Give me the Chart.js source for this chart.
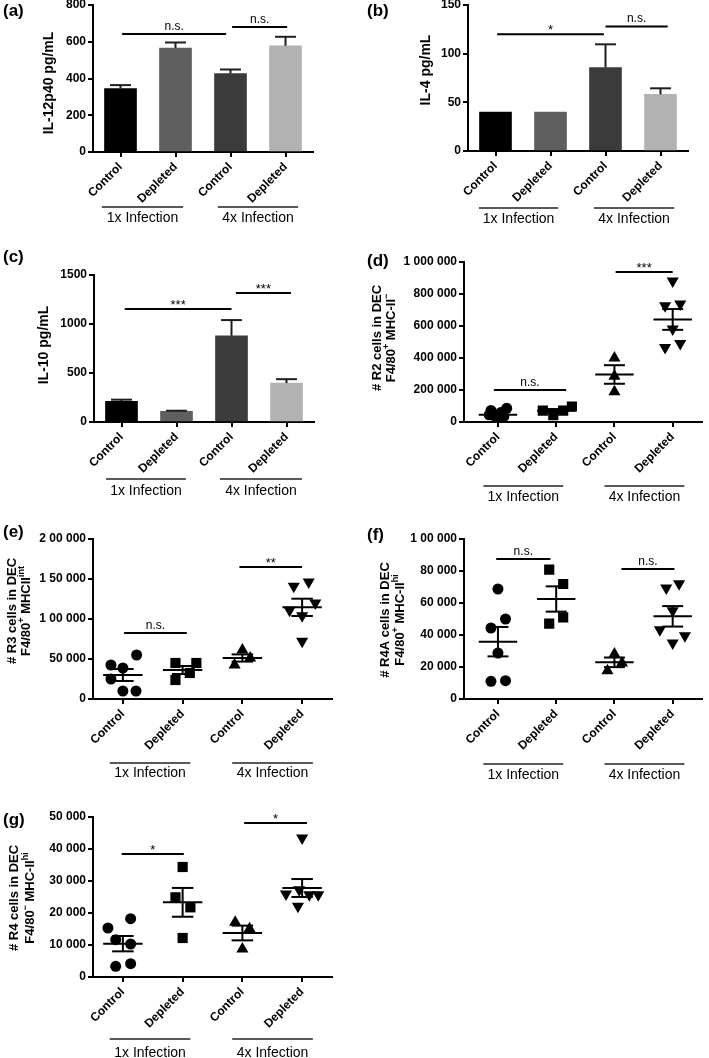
<!DOCTYPE html>
<html><head><meta charset="utf-8">
<script src="https://cdn.jsdelivr.net/npm/chart.js@4/dist/chart.umd.min.js"></script>
<style>
html,body{margin:0;padding:0;background:#fff;}
#wrap{position:relative;width:709px;height:1058px;overflow:hidden;background:#fff;}
canvas{position:absolute;left:0;top:0;}
</style></head><body><div id="wrap"></div>
<script>
// ---------- DATA ----------
const categories = ['Control', 'Depleted', 'Control', 'Depleted'];
const groupLabels = ['1x Infection', '4x Infection'];
const barColors = ['#000000', '#5f5f5f', '#3b3b3b', '#b2b2b2'];

// (a) IL-12p40 pg/mL
const il12Mean = [345, 565, 427, 578];
const il12Sem = [19, 31, 22, 49];
const yTicksA = ['0', '200', '400', '600', '800'];
// (b) IL-4 pg/mL
const il4Mean = [40, 40, 85.6, 58.2];
const il4Sem = [0, 0, 24, 6.2];
const yTicksB = ['0', '50', '100', '150'];
// (c) IL-10 pg/mL
const il10Mean = [210, 109, 880, 397];
const il10Sem = [18, 6, 160, 40];
const yTicksC = ['0', '500', '1000', '1500'];

// (d) R2 cells
const r2Ctrl1 = [86000, 72000, 60000, 45000, 35000, 18000];
const r2Ctrl1X = [0.15, -0.12, 0.05, -0.15, 0.1, -0.02];
const r2Dep1 = [71000, 43000, 71000, 97000];
const r2Dep1X = [-0.23, -0.05, 0.12, 0.27];
const r2Ctrl4 = [400000, 286000, 189000];
const r2Ctrl4X = [0, 0, 0];
const r2Dep4 = [882000, 727000, 737000, 581000, 465000, 490000];
const r2Dep4X = [0, -0.13, 0.13, 0, -0.13, 0.13];
const r2Mean = [45000, 70000, 297000, 641000];
const r2Sem = [10000, 11000, 58000, 65000];
const yTicksD = ['0', '200 000', '400 000', '600 000', '800 000', '1 000 000'];

// (e) R3 cells
const r3Ctrl1 = [55000, 42500, 38750, 25000, 10000, 10000];
const r3Ctrl1X = [0.23, -0.2, 0, -0.2, 0, 0.22];
const r3Dep1 = [45000, 45000, 32500, 23750];
const r3Dep1X = [-0.12, 0.23, 0.12, -0.12];
const r3Ctrl4 = [61250, 42500, 51250];
const r3Ctrl4X = [0, -0.13, 0.13];
const r3Dep4 = [140833, 146250, 120000, 110833, 104167, 72083];
const r3Dep4X = [-0.14, 0.11, 0.22, -0.21, 0, 0];
const r3Mean = [30000, 36250, 51250, 114583];
const r3Sem = [7500, 5000, 4500, 10800];
const yTicksE = ['0', '50 000', '1 00 000', '1 50 000', '2 00 000'];

// (f) R4A cells
const r4aCtrl1 = [68750, 44375, 50000, 28750, 11042, 11458];
const r4aCtrl1X = [0, -0.12, 0.13, 0, -0.12, 0.13];
const r4aDep1 = [80833, 71875, 47083, 51042];
const r4aDep1X = [-0.12, 0.12, -0.12, 0.12];
const r4aCtrl4 = [28125, 17708, 22500];
const r4aCtrl4X = [0, -0.12, 0.13];
const r4aDep4 = [69375, 72083, 55208, 43333, 39583, 35000];
const r4aDep4X = [-0.11, 0.11, 0, -0.22, 0.21, 0];
const r4aMean = [35833, 62500, 22917, 51667];
const r4aSem = [9200, 7900, 3000, 6400];
const yTicksF = ['0', '20 000', '40 000', '60 000', '80 000', '1 00 000'];

// (g) R4 cells
const r4Ctrl1 = [18229, 15313, 11667, 10313, 3333, 4167];
const r4Ctrl1X = [0.13, -0.25, -0.12, 0.13, -0.12, 0.13];
const r4Dep1 = [34375, 24896, 21771, 12188];
const r4Dep1X = [0, -0.12, 0.13, 0];
const r4Ctrl4 = [17083, 15104, 8750];
const r4Ctrl4X = [-0.12, 0.12, 0];
const r4Dep4 = [43400, 25900, 27300, 25700, 25700, 22100];
const r4Dep4X = [0, -0.27, -0.05, 0.12, 0.27, -0.07];
const r4Mean = [10417, 23333, 13750, 27813];
const r4Sem = [2400, 4500, 2300, 2800];
const yTicksG = ['0', '10 000', '20 000', '30 000', '40 000', '50 000'];

// ---------- RENDERING ----------
const FONT = "'Liberation Sans', Arial, Helvetica, sans-serif";
const fnt = (s, b) => (b ? 'bold ' : '') + s + 'px ' + FONT;
const W = 709, H = 1058, YW = 62, XH = 70;
const wrap = document.getElementById('wrap');

const panels = [
  {id:'a', type:'bar', box:{L:93,R:313,T:5,B:152}, step:200, yTicks:yTicksA, means:il12Mean, sems:il12Sem,
   title:[[{t:'IL-12p40 pg/mL'}]], tx:[49], ty:83, ts:14, letter:'(a)', lx:3, ly:11,
   sig:[[0.03,1.92,642,'n.s.'],[2.03,3.03,680,'n.s.']], gdy:55, gtdy:11, spans:[[-0.34,1.14],[1.77,3.23]]},
  {id:'b', type:'bar', box:{L:468,R:688,T:5,B:151}, step:50, yTicks:yTicksB, means:il4Mean, sems:il4Sem,
   title:[[{t:'IL-4 pg/mL'}]], tx:[426], ty:70, ts:14, letter:'(b)', lx:367, ly:11,
   sig:[[0.03,1.97,120,'*'],[2.0,3.13,128,'n.s.']], gdy:57, gtdy:11, spans:[[-0.3,1.14],[1.79,3.25]]},
  {id:'c', type:'bar', box:{L:94,R:314,T:275,B:422}, step:500, yTicks:yTicksC, means:il10Mean, sems:il10Sem,
   title:[[{t:'IL-10 pg/mL'}]], tx:[44], ty:345, ts:14, letter:'(c)', lx:3, ly:257,
   sig:[[0.06,2.0,1153,'***'],[2.08,3.08,1316,'***']], gdy:57, gtdy:12, spans:[[-0.28,1.17],[1.79,3.28]]},
  {id:'d', type:'scatter', box:{L:464,R:709,T:262,B:422}, xmin:-0.583, step:200000, yTicks:yTicksD, means:r2Mean, sems:r2Sem,
   pts:[[r2Ctrl1,r2Ctrl1X],[r2Dep1,r2Dep1X],[r2Ctrl4,r2Ctrl4X],[r2Dep4,r2Dep4X]],
   title:[[{t:'# R2 cells in DEC'}],[{t:'F4/80'},{t:'+',sup:1},{t:' MHC-II'},{t:'\u2212',sup:1}]], tx:[377,391], ty:338, ts:13,
   letter:'(d)', lx:367, ly:261,
   sig:[[-0.07,1.17,200000,'n.s.'],[2.02,3.0,937500,'***']], gdy:64, gtdy:11, spans:[[-0.25,1.12],[1.83,3.2]]},
  {id:'e', type:'scatter', box:{L:93,R:332,T:539,B:699}, xmin:-0.5, step:50000, yTicks:yTicksE, means:r3Mean, sems:r3Sem,
   pts:[[r3Ctrl1,r3Ctrl1X],[r3Dep1,r3Dep1X],[r3Ctrl4,r3Ctrl4X],[r3Dep4,r3Dep4X]],
   title:[[{t:'# R3 cells in DEC'}],[{t:'F4/80'},{t:'+',sup:1},{t:' MHCII'},{t:'int',sup:1}]], tx:[12,26], ty:611, ts:13,
   letter:'(e)', lx:3, ly:532,
   sig:[[0.02,1.07,82500,'n.s.'],[1.95,3.0,165000,'**']], gdy:64, gtdy:10, spans:[[-0.22,1.13],[1.83,3.18]]},
  {id:'f', type:'scatter', box:{L:464,R:709,T:539,B:699}, xmin:-0.583, step:20000, yTicks:yTicksF, means:r4aMean, sems:r4aSem,
   pts:[[r4aCtrl1,r4aCtrl1X],[r4aDep1,r4aDep1X],[r4aCtrl4,r4aCtrl4X],[r4aDep4,r4aDep4X]],
   title:[[{t:'# R4A cells in DEC'}],[{t:'F4/80'},{t:'+',sup:1},{t:' MHC-II'},{t:'hi',sup:1}]], tx:[385,400], ty:620, ts:13,
   letter:'(f)', lx:367, ly:535,
   sig:[[-0.03,0.9,87500,'n.s.'],[2.12,3.03,81250,'n.s.']], gdy:65, gtdy:11, spans:[[-0.25,1.12],[1.83,3.2]]},
  {id:'g', type:'scatter', box:{L:93,R:332,T:817,B:977}, xmin:-0.5, step:10000, yTicks:yTicksG, means:r4Mean, sems:r4Sem,
   pts:[[r4Ctrl1,r4Ctrl1X],[r4Dep1,r4Dep1X],[r4Ctrl4,r4Ctrl4X],[r4Dep4,r4Dep4X]],
   title:[[{t:'# R4 cells in DEC'}],[{t:'F4/80'},{t:'\u2212',sup:1},{t:' MHC-II'},{t:'hi',sup:1}]], tx:[14,30], ty:898, ts:13,
   letter:'(g)', lx:3, ly:820,
   sig:[[-0.02,1.02,38440,'*'],[2.03,3.08,48125,'*']], gdy:62, gtdy:14, spans:[[-0.22,1.13],[1.83,3.18]]}
];

function drawRich(ctx, segs, size) {
  const ss = Math.round(size * 0.7);
  let total = 0; const ws = [];
  segs.forEach(s => { ctx.font = fnt(s.sup ? ss : size, true); const w = ctx.measureText(s.t).width; ws.push(w); total += w; });
  let x = -total / 2;
  segs.forEach((s, i) => { ctx.font = fnt(s.sup ? ss : size, true); ctx.fillText(s.t, x, s.sup ? -size * 0.38 : 0); x += ws[i]; });
}

function annot(p) {
  return { id: 'annot', afterDraw(chart) {
    const ctx = chart.ctx, xs = chart.scales.x, ys = chart.scales.y, ca = chart.chartArea;
    const X = v => xs.getPixelForValue(v), Y = v => ys.getPixelForValue(v);
    ctx.save();
    ctx.lineCap = 'butt';
    const line = (x1, y1, x2, y2) => { ctx.beginPath(); ctx.moveTo(x1, y1); ctx.lineTo(x2, y2); ctx.stroke(); };
    if (p.type === 'bar') {
      ctx.strokeStyle = '#1e1e1e'; ctx.lineWidth = 2;
      p.means.forEach((m, i) => {
        const s = p.sems[i]; if (!s) return;
        const x = X(i), y0 = Y(m), y1 = Y(m + s);
        line(x, y0, x, y1); line(X(i - 0.19), y1, X(i + 0.19), y1);
      });
    } else {
      ctx.strokeStyle = '#000'; ctx.lineWidth = 2;
      p.means.forEach((m, i) => {
        const s = p.sems[i];
        line(X(i - 0.33), Y(m), X(i + 0.33), Y(m));
        const yt = Y(m + s), yb = Y(m - s);
        line(X(i), yt, X(i), yb);
        line(X(i - 0.18), yt, X(i + 0.18), yt);
        line(X(i - 0.18), yb, X(i + 0.18), yb);
      });
    }
    // significance bars
    ctx.strokeStyle = '#000'; ctx.fillStyle = '#000'; ctx.lineWidth = 2;
    ctx.textAlign = 'center'; ctx.textBaseline = 'alphabetic';
    p.sig.forEach(([a, b, v, txt]) => {
      const y = Y(v);
      line(X(a), y, X(b), y);
      ctx.font = fnt(txt[0] === '*' ? 13 : 12, false);
      ctx.fillText(txt, (X(a) + X(b)) / 2, y - (txt[0] === '*' ? 0 : 4));
    });
    // group lines
    ctx.lineWidth = 1.6; ctx.strokeStyle = '#222';
    const gy = ca.bottom + p.gdy;
    p.spans.forEach(([a, b], k) => {
      line(X(a), gy, X(b), gy);
      ctx.font = fnt(14, false); ctx.textBaseline = 'middle';
      ctx.fillText(groupLabels[k], (X(a) + X(b)) / 2, gy + p.gtdy);
    });
    // axis title
    ctx.textBaseline = 'middle'; ctx.textAlign = 'left';
    p.title.forEach((segs, k) => {
      ctx.save(); ctx.translate(p.tx[k], p.ty); ctx.rotate(-Math.PI / 2);
      drawRich(ctx, segs, p.ts); ctx.restore();
    });
    // panel letter
    ctx.font = fnt(17, true); ctx.textAlign = 'left'; ctx.textBaseline = 'middle';
    ctx.fillText(p.letter, p.lx, p.ly);
    ctx.restore();
  }};
}

const markerStyles = [
  {pointStyle:'circle', radius:5.5, rotation:0},
  {pointStyle:'rect', radius:7.2, rotation:0},
  {pointStyle:'triangle', radius:7, rotation:0},
  {pointStyle:'triangle', radius:7, rotation:180}
];

panels.forEach(p => {
  const c = document.createElement('canvas');
  c.width = W; c.height = H; c.style.width = W + 'px'; c.style.height = H + 'px';
  wrap.appendChild(c);
  const {L, R, T, B} = p.box;
  const yMax = p.step * (p.yTicks.length - 1);
  const axisCommon = {
    grid: {display: true, drawOnChartArea: false, drawTicks: true, tickLength: 5, color: '#000', lineWidth: 2, offset: false},
    border: {display: true, color: '#000', width: 2}
  };
  const xTicks = {color: '#000', font: {family: FONT, size: 12, weight: 'bold'}, minRotation: 45, maxRotation: 45, autoSkip: false, padding: 3};
  let data, xScale;
  if (p.type === 'bar') {
    data = {labels: categories, datasets: [{data: p.means, backgroundColor: barColors, borderWidth: 0, barThickness: 32}]};
    xScale = Object.assign({type: 'category', offset: true, ticks: xTicks}, axisCommon);
  } else {
    data = {datasets: p.pts.map(([vals, jit], k) => ({
      data: vals.map((v, i) => ({x: k + jit[i], y: v})),
      backgroundColor: '#000', borderWidth: 0,
      pointStyle: markerStyles[k].pointStyle, pointRadius: markerStyles[k].radius, pointRotation: markerStyles[k].rotation
    }))};
    xScale = Object.assign({type: 'linear', min: p.xmin, max: 3.5,
      afterBuildTicks: s => { s.ticks = [0, 1, 2, 3].map(v => ({value: v})); },
      ticks: Object.assign({}, xTicks, {callback: v => categories[v]})}, axisCommon);
  }
  xScale.afterFit = s => { s.height = XH; s.paddingLeft = 0; s.paddingRight = 0; };
  const yScale = Object.assign({type: 'linear', min: 0, max: yMax,
    afterBuildTicks: s => { s.ticks = p.yTicks.map((_, i) => ({value: i * p.step})); },
    afterFit: s => { s.width = YW; s.paddingTop = 0; s.paddingBottom = 0; },
    ticks: {color: '#000', font: {family: FONT, size: 12, weight: 'bold'}, padding: 2, callback: (v, i) => p.yTicks[i]}
  }, axisCommon);
  new Chart(c, {
    type: p.type, data,
    options: {
      responsive: false, animation: false, events: [],
      layout: {padding: {left: L - YW, right: W - R, top: T, bottom: H - B - XH}},
      plugins: {legend: {display: false}, tooltip: {enabled: false}},
      scales: {x: xScale, y: yScale}
    },
    plugins: [annot(p)]
  });
});
</script></body></html>
